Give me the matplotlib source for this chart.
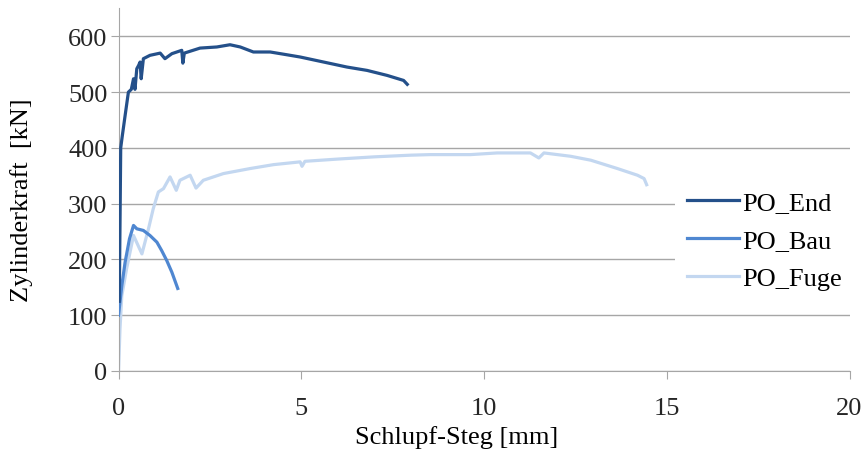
import numpy as np
import matplotlib.pyplot as plt

# Values
end_x = [0.02, 0.04, 0.06, 0.1, 0.18, 0.27, 0.35, 0.41, 0.45, 0.5, 0.55, 0.59, 0.62, 0.68, 0.86, 1.0, 1.14,
         1.27, 1.46, 1.73, 1.76, 1.8, 2.23, 2.69, 3.05, 3.33, 3.69, 4.15, 4.61, 4.97, 5.61, 6.25, 6.8,
         7.35, 7.8, 7.9]
end_y = [125, 260, 400, 420, 458, 500, 505, 524, 505, 542, 548, 554, 524, 560, 566, 568, 570,
         560, 569, 575, 552, 570, 579, 581, 585, 581, 572, 572, 567, 563, 554, 545, 539,
         530, 521, 514]

bau_x = [0.0, 0.09, 0.18, 0.3, 0.41, 0.5, 0.68, 0.86, 1.05, 1.18, 1.32, 1.46, 1.62]
bau_y = [100, 153, 195, 237, 261, 255, 252, 243, 231, 216, 198, 177, 148]

fuge_x = [0.0, 0.04, 0.09, 0.22, 0.41, 0.64, 0.82, 0.95, 1.09, 1.23, 1.41, 1.58, 1.68, 1.96, 2.12,
          2.32, 2.87, 3.6, 4.24, 4.97, 5.02, 5.1, 6.0, 7.0, 8.0, 8.53, 9.63, 10.36, 11.27, 11.5,
          11.64, 12.37, 12.92, 13.65, 14.2, 14.38, 14.45]
fuge_y = [0, 75, 135, 183, 243, 210, 255, 291, 321, 327, 348, 324, 342, 351, 328,
          342, 354, 363, 370, 375, 367, 376, 380, 384, 387, 388, 388, 391, 391, 382,
          391, 385, 378, 363, 351, 345, 334]

x_ticks = [0, 5, 10, 15, 20]
y_ticks = [0, 100, 200, 300, 400, 500, 600]

plt.rcParams['font.family'] = ['Liberation Serif', 'DejaVu Serif']

fig = plt.figure(figsize=(8.62, 4.52), dpi=100)
ax = fig.add_axes([0.1375, 0.177, 0.848, 0.802])

ax.plot(end_x, end_y, color='#24508a', lw=2.3, label='PO_End', zorder=4)
ax.plot(bau_x, bau_y, color='#4f87d1', lw=2.3, label='PO_Bau', zorder=3)
ax.plot(fuge_x, fuge_y, color='#c3d7f0', lw=2.3, label='PO_Fuge', zorder=2)

ax.set_xlim(0, 20)
ax.set_ylim(0, 650)
ax.set_xticks(x_ticks)
ax.set_yticks(y_ticks)
ax.grid(axis='y', color='#a6a6a6', lw=1.0)
ax.set_axisbelow(True)

for s in ['top', 'right']:
    ax.spines[s].set_visible(False)
for s in ['left', 'bottom']:
    ax.spines[s].set_color('#a6a6a6')
ax.tick_params(axis='both', colors='#a6a6a6', length=6, labelsize=19, labelcolor='#262626')
ax.tick_params(axis='x', pad=13)
ax.tick_params(axis='y', pad=2)

ax.set_xlabel('Schlupf-Steg [mm]', fontsize=19)
ax.xaxis.set_label_coords(0.462, -0.15)
ax.set_ylabel('Zylinderkraft  [kN]', fontsize=19)
ax.yaxis.set_label_coords(-0.117, 0.474)

leg = ax.legend(loc='center left', bbox_to_anchor=(0.743, 0.36), fontsize=19, frameon=True,
                handlelength=2.0, handletextpad=0.1, labelspacing=0.55, borderpad=0.45)
leg.get_frame().set_edgecolor('none')
leg.get_frame().set_facecolor('white')
leg.get_frame().set_alpha(1)

fig.savefig('out.png', dpi=100)
